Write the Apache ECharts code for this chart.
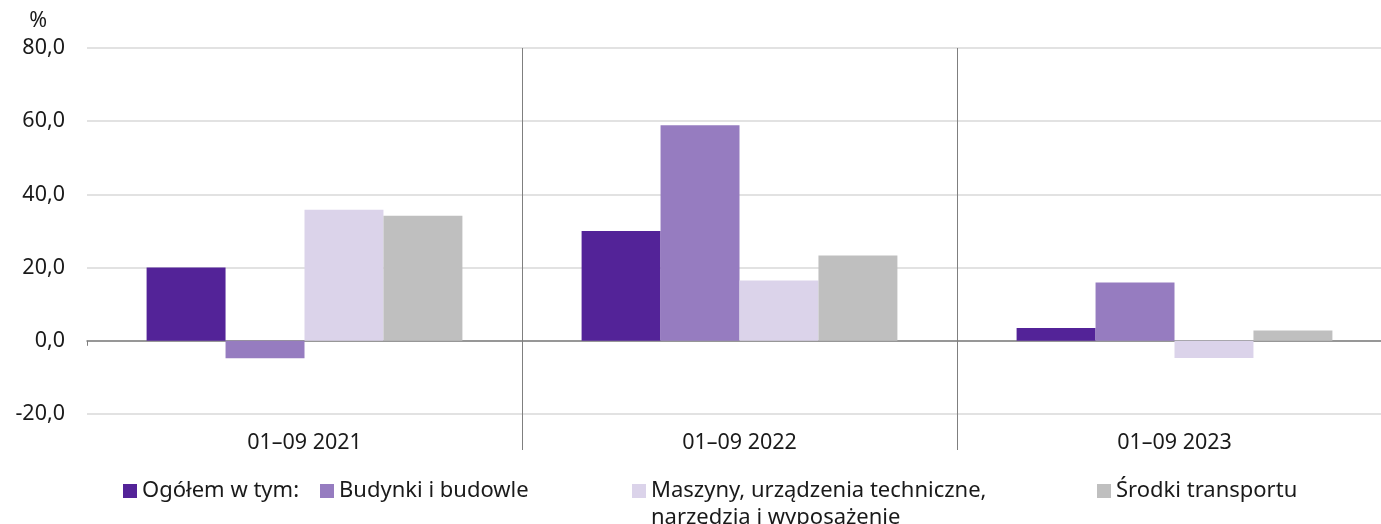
<!DOCTYPE html>
<html>
<head>
<meta charset="utf-8">
<script src="https://cdn.jsdelivr.net/npm/echarts@6/dist/echarts.min.js"></script>
<style>html,body{margin:0;padding:0;background:#fff}#c{width:1381px;height:524px}</style>
</head>
<body>
<div id="c"></div>
<script>
const categories = ['01–09 2021', '01–09 2022', '01–09 2023'];
const seriesNames = ['Ogółem w tym:', 'Budynki i budowle', 'Maszyny, urządzenia techniczne, narzędzia i wyposażenie', 'Środki transportu'];
const legendLines = [['Ogółem w tym:'], ['Budynki i budowle'], ['Maszyny, urządzenia techniczne,', 'narzędzia i wyposażenie'], ['Środki transportu']];
const ogolem = [20.0, 30.0, 3.5];
const budynki = [-4.8, 58.9, 15.9];
const maszyny = [35.8, 16.5, -4.7];
const srodki = [34.2, 23.3, 2.8];
const colors = ['#532398', '#967cc0', '#dbd3ea', '#bfbfbf'];
const yTicks = { min: -20, max: 80, interval: 20 };

const font = 'Noto Sans';
const fsAxis = 21.5;
const fsLegend = 22;
const chart = echarts.init(document.getElementById('c'));
const values = [ogolem, budynki, maszyny, srodki];
const legendLefts = [123, 320, 632, 1097];

const legends = [];
seriesNames.forEach(function (n, i) {
  legends.push({
    data: [n], left: legendLefts[i], top: 480, icon: 'rect', itemWidth: 14, itemHeight: 14,
    itemGap: 0, padding: 0, selectedMode: false,
    formatter: function () { return legendLines[i][0]; },
    textStyle: { fontSize: fsLegend, color: '#1a1a1a', fontFamily: font }
  });
  if (legendLines[i].length > 1) {
    legends.push({
      data: [n], left: legendLefts[i], top: 507, icon: 'none', itemWidth: 14, itemHeight: 14,
      itemGap: 0, padding: 0, selectedMode: false,
      formatter: function () { return legendLines[i][1]; },
      textStyle: { fontSize: fsLegend, color: '#1a1a1a', fontFamily: font }
    });
  }
});

const option = {
  animation: false,
  textStyle: { fontFamily: font },
  grid: { left: 87, width: 1305, top: 48, height: 366, containLabel: false, outerBoundsMode: 'none' },
  xAxis: [
    {
      type: 'category', data: categories, position: 'bottom',
      axisLine: { show: true, onZero: true, lineStyle: { color: '#7f7f7f', width: 1.5 } },
      axisTick: { show: true, length: 5, lineStyle: { color: '#7f7f7f' } },
      axisLabel: { show: false },
      splitLine: { show: false }
    },
    {
      type: 'category', data: categories, position: 'bottom',
      axisLine: { show: false, onZero: false },
      axisTick: { show: true, length: 36, interval: function (i) { return i !== 0; }, lineStyle: { color: '#7f7f7f' } },
      axisLabel: { show: true, margin: 18, color: '#1a1a1a', fontSize: fsAxis, fontFamily: font },
      splitLine: { show: true, interval: function (i) { return i !== 0; }, lineStyle: { color: '#7f7f7f', width: 1 } }
    }
  ],
  yAxis: {
    type: 'value', min: yTicks.min, max: yTicks.max, interval: yTicks.interval,
    name: '%', nameLocation: 'end', nameGap: 16,
    nameTextStyle: { color: '#1a1a1a', fontSize: fsAxis, fontFamily: font, align: 'right', padding: [0, 40, 0, 0] },
    axisLine: { show: false }, axisTick: { show: false },
    axisLabel: { margin: 22, color: '#1a1a1a', fontSize: fsAxis, fontFamily: font,
      formatter: function (v) { return v.toFixed(1).replace('.', ','); } },
    splitLine: { show: true, lineStyle: { color: '#d9d9d9', width: 1.5 } }
  },
  legend: legends,
  series: seriesNames.map(function (n, i) {
    return {
      name: n, type: 'bar', xAxisIndex: 0, data: values[i],
      barGap: '0%', barCategoryGap: '27.4%',
      itemStyle: { color: colors[i] }
    };
  })
};
chart.setOption(option);
</script>
</body>
</html>
